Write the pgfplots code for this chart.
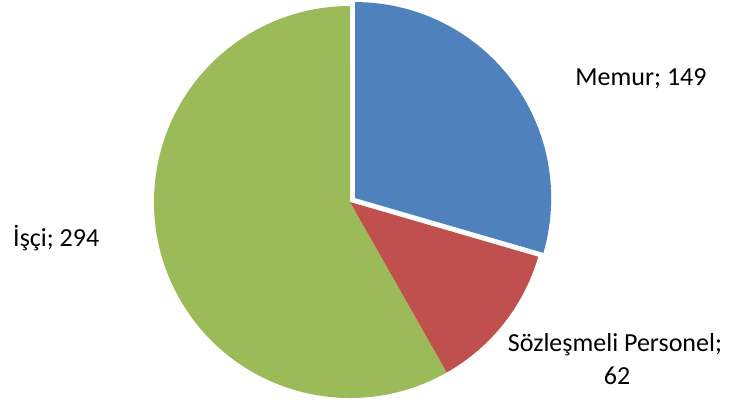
\documentclass[border=0pt]{standalone}
\usepackage{fontspec}
\setmainfont{Carlito}
\usepackage{pgfplots}
\pgfplotsset{compat=1.18}

\definecolor{memur}{HTML}{4F81BD}
\definecolor{sozlesmeli}{HTML}{C0504D}
\definecolor{isci}{HTML}{9BBB59}

% slice values
\def\vMemur{149}
\def\vSoz{62}
\def\vIsci{294}

\begin{document}
\begin{tikzpicture}[lbl/.style={font=\fontsize{26bp}{32bp}\selectfont}]
\begin{axis}[
    hide axis,
    scale only axis,
    width=730bp, height=401bp,
    xmin=0, xmax=730, ymin=0, ymax=401,
    clip=false,
]
\pgfmathsetmacro{\total}{\vMemur+\vSoz+\vIsci}
\pgfmathsetmacro{\aA}{90-\vMemur/\total*360}
\pgfmathsetmacro{\aB}{\aA-\vSoz/\total*360}
\pgfmathsetmacro{\aMid}{(90+\aA)/2}
% pie centre, radius, explode offset of first slice
\def\cx{350}\def\cy{199}\def\R{196}
\pgfmathsetmacro{\ex}{\cx+6.5*cos(\aMid)}
\pgfmathsetmacro{\ey}{\cy+6.5*sin(\aMid)}

\fill[isci] (axis cs:\cx,\cy) -- (axis cs:{\cx+\R*cos(\aB)},{\cy+\R*sin(\aB)})
    arc[start angle=\aB, end angle=-270, radius=\R] -- cycle;
\fill[sozlesmeli] (axis cs:\cx,\cy) -- (axis cs:{\cx+\R*cos(\aA)},{\cy+\R*sin(\aA)})
    arc[start angle=\aA, end angle=\aB, radius=\R] -- cycle;
\fill[memur] (axis cs:\ex,\ey) -- (axis cs:\ex,{\ey+\R})
    arc[start angle=90, end angle=\aA, radius=\R] -- cycle;

\node[lbl, anchor=base] at (axis cs:641,315) {Memur; 149};
\node[lbl, anchor=base west, inner sep=0pt] at (axis cs:13,154) {İşçi; 294};
\node[lbl, anchor=base] at (axis cs:615,49) {Sözleşmeli Personel;};
\node[lbl, anchor=base] at (axis cs:617,17) {62};
\end{axis}
\pgfresetboundingbox
\path[use as bounding box] (0,0) rectangle (730bp,401bp);
\end{tikzpicture}
\end{document}
